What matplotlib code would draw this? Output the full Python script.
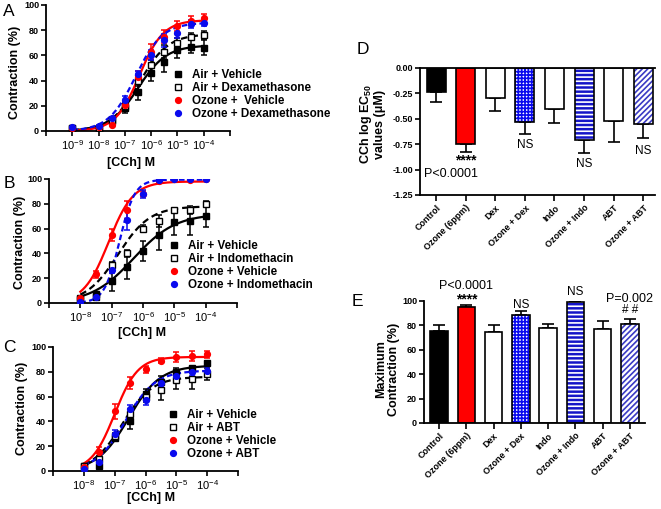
import numpy as np
import matplotlib
matplotlib.use("Agg")
import matplotlib.pyplot as plt

plt.rcParams['font.family'] = ['Liberation Sans', 'DejaVu Sans']
plt.rcParams['mathtext.default'] = 'regular'
plt.rcParams['hatch.linewidth'] = 1.2

W, H = 661, 509

# ---- dose-response data (log10 [CCh] M vs contraction %) ----
A_x = [-9, -8, -7.5, -7, -6.5, -6, -5.5, -5, -4.5, -4]
A_air_veh = [2, 1, 8, 18, 31, 46, 55, 64, 67, 66]
A_air_veh_err = [1, 1, 2, 4, 6, 6, 8, 6, 5, 6]
A_air_dex = [2, 2, 9, 20, 40, 52, 63, 70, 75, 76]
A_air_dex_err = [1, 1, 1, 3, 4, 4, 5, 4, 3, 3]
A_oz_veh = [2, 3, 5, 21, 43, 63, 75, 83, 87, 90]
A_oz_veh_err = [1, 1, 1, 3, 5, 6, 5, 4, 4, 3]
A_oz_dex = [3, 4, 10, 25, 45, 60, 72, 78, 85, 86]
A_oz_dex_err = [1, 1, 1, 3, 3, 4, 5, 4, 3, 3]
# fitted curves: bottom, top, logEC50, hill
A_fits = [(0, 68, -6.5, 0.8), (0, 77, -6.45, 0.8), (0, 88, -6.45, 0.95), (0, 86, -6.6, 0.85)]

B_x = [-8, -7.5, -7, -6.5, -6, -5.5, -5, -4.5, -4]
B_air_veh = [4, 7, 18, 29, 42, 55, 65, 66, 70]
B_air_veh_err = [1, 2, 8, 10, 8, 12, 10, 11, 9]
B_air_indo = [3, 5, 31, 40, 60, 66, 75, 75, 80]
B_air_indo_err = [1, 1, 2, 3, 3, 5, 2, 3, 2]
B_oz_veh = [4, 23, 55, 75, 88, 98, 100, 99, 100]
B_oz_veh_err = [1, 3, 5, 7, 2, 1, 1, 1, 1]
B_oz_indo = [1, 5, 27, 67, 88, 99, 100, 100, 100]
B_oz_indo_err = [1, 1, 3, 8, 3, 1, 1, 1, 1]
B_fits = [(0, 72, -6.3, 0.65), (0, 78, -6.8, 0.85), (0, 98, -7.1, 1.1), (0, 99.5, -6.75, 1.8)]

C_x = [-8, -7.5, -7, -6.5, -6, -5.5, -5, -4.5, -4]
C_air_veh = [4, 4, 27, 40, 62, 72, 80, 83, 87]
C_air_veh_err = [1, 1, 3, 6, 4, 5, 3, 2, 2]
C_air_abt = [4, 10, 28, 46, 60, 65, 73, 74, 78]
C_air_abt_err = [1, 2, 3, 4, 4, 8, 7, 8, 5]
C_oz_veh = [3, 15, 48, 71, 82, 89, 92, 93, 94]
C_oz_veh_err = [1, 4, 6, 5, 3, 2, 4, 4, 3]
C_oz_abt = [2, 7, 30, 50, 57, 71, 77, 80, 81]
C_oz_abt_err = [1, 2, 3, 3, 4, 3, 3, 3, 3]
C_fits = [(0, 85, -6.55, 0.85), (0, 76, -6.75, 0.9), (0, 92, -7.0, 1.15), (0, 81, -6.65, 0.9)]

# ---- bar data ----
groups = ["Control", "Ozone (6ppm)", "Dex", "Ozone + Dex", "Indo", "Ozone + Indo", "ABT", "Ozone + ABT"]
ec50 = [-0.24, -0.75, -0.30, -0.53, -0.40, -0.71, -0.52, -0.55]
ec50_err = [0.09, 0.08, 0.12, 0.12, 0.14, 0.13, 0.21, 0.14]
maxc = [75.5, 95, 75, 88.5, 78, 99, 77, 81.5]
maxc_err = [4.5, 1.5, 5, 3, 3.5, 0.5, 6.5, 4]

BLUE = '#0a0aee'
faces = ['black', '#ff0000', 'white', 'white', 'white', '#1414c8', 'white', 'white']
hatches = [None, None, None, '+++++', None, '----', None, '//////']
hatch_cols = [None, None, None, BLUE, None, 'white', None, '#3a3ac4']


def hill(x, p):
    b, t, ec, h = p
    return b + (t - b) / (1 + 10 ** ((ec - x) * h))


def px_axes(fig, l, t, r, b):
    return fig.add_axes([l / W, 1 - b / H, (r - l) / W, (b - t) / H])


def style_axes(ax):
    for s in ['top', 'right']:
        ax.spines[s].set_visible(False)
    for s in ['left', 'bottom']:
        ax.spines[s].set_linewidth(1.3)
    ax.tick_params(width=1.2, length=3.5, labelsize=6.5, pad=1.5)
    for lab in ax.get_yticklabels():
        lab.set_fontweight('bold')


fig = plt.figure(figsize=(W / 100, H / 100), dpi=100)


def curve_panel(box, x, series, fits, labels, xmin, xlabels, leg_xy, letter, letter_xy, ylab_xy, xlab_xy):
    ax = px_axes(fig, *box)
    cols = ['black', 'black', '#ff0000', BLUE]
    lss = ['-', (0, (3, 1.8)), '-', (0, (2.5, 1.5))]
    mfc = ['black', 'white', '#ff0000', BLUE]
    mks = ['s', 's', 'o', 'o']
    xs = np.linspace(xmin + 1, -4, 200)
    handles = []
    for (y, e), p, c, ls, fc, m, lab in zip(series, fits, cols, lss, mfc, mks, labels):
        ax.plot(xs, hill(xs, p), color=c, ls=ls, lw=1.6, zorder=2)
        ax.errorbar(x, y, yerr=e, fmt='none', ecolor=c, elinewidth=1.1, capsize=2.5, capthick=1.1, zorder=3)
        h, = ax.plot(x, y, ls='none', marker=m, ms=4.2, mfc=fc, mec=c, mew=1.0, zorder=4, label=lab)
        handles.append(h)
    ax.set_xlim(xmin, -3)
    ax.set_ylim(0, 100)
    ax.set_yticks([0, 20, 40, 60, 80, 100])
    ticks = list(range(xmin, -2))
    ax.set_xticks(ticks)
    ax.set_xticklabels([r'$10^{%d}$' % t if t in xlabels else '' for t in ticks])
    style_axes(ax)
    ax.tick_params(axis='x', labelsize=8, pad=1.5)
    fig.legend(handles=handles, loc='upper left', bbox_to_anchor=(leg_xy[0] / W, 1 - leg_xy[1] / H),
               frameon=False, handlelength=0.8, handletextpad=0.85, labelspacing=0.08,
               borderpad=0, borderaxespad=0, prop={'weight': 'bold', 'size': 8.4})
    fig.text(letter_xy[0] / W, 1 - letter_xy[1] / H, letter, fontsize=12.5, ha='center', va='center')
    fig.text(ylab_xy[0] / W, 1 - ylab_xy[1] / H, 'Contraction (%)', rotation=90, fontsize=9,
             fontweight='bold', ha='center', va='center')
    fig.text(xlab_xy[0] / W, 1 - xlab_xy[1] / H, '[CCh] M', fontsize=9, fontweight='bold',
             ha='center', va='center')
    return ax


curve_panel((46, 5, 230, 131), A_x,
            [(A_air_veh, A_air_veh_err), (A_air_dex, A_air_dex_err), (A_oz_veh, A_oz_veh_err), (A_oz_dex, A_oz_dex_err)],
            A_fits, ['Air + Vehicle', 'Air + Dexamethasone', 'Ozone +  Vehicle', 'Ozone + Dexamethasone'],
            -10, range(-9, -3), (173, 69), 'A', (9, 12), (15, 72), (131, 163))

curve_panel((49, 179, 237, 303), B_x,
            [(B_air_veh, B_air_veh_err), (B_air_indo, B_air_indo_err), (B_oz_veh, B_oz_veh_err), (B_oz_indo, B_oz_indo_err)],
            B_fits, ['Air + Vehicle', 'Air + Indomethacin', 'Ozone + Vehicle', 'Ozone + Indomethacin'],
            -9, range(-8, -3), (169, 240), 'B', (9, 183), (20, 242), (142, 333))

curve_panel((53, 347, 238, 471), C_x,
            [(C_air_veh, C_air_veh_err), (C_air_abt, C_air_abt_err), (C_oz_veh, C_oz_veh_err), (C_oz_abt, C_oz_abt_err)],
            C_fits, ['Air + Vehicle', 'Air + ABT', 'Ozone + Vehicle', 'Ozone + ABT'],
            -9, range(-8, -3), (168, 409), 'C', (9, 348), (22, 408), (151, 498))


def draw_bars(ax, vals, errs, down):
    pos = np.arange(len(vals))
    for i in range(len(vals)):
        if hatches[i]:
            ax.bar(pos[i], vals[i], width=0.64, color=faces[i], edgecolor=hatch_cols[i],
                   hatch=hatches[i], linewidth=0, zorder=2)
            ax.bar(pos[i], vals[i], width=0.64, color='none', edgecolor='black', linewidth=1.2, zorder=3)
        else:
            ax.bar(pos[i], vals[i], width=0.64, color=faces[i], edgecolor='black', linewidth=1.2, zorder=2)
    e = np.array(errs)
    yerr = [e, np.zeros_like(e)] if down else [np.zeros_like(e), e]
    ax.errorbar(pos, vals, yerr=yerr, fmt='none', ecolor='black', elinewidth=1.2,
                capsize=4.5, capthick=1.2, zorder=1)
    ax.set_xticks(pos)
    ax.set_xticklabels(groups, rotation=45, ha='right', va='top', rotation_mode='anchor',
                       fontsize=6.8, fontweight='bold')
    return pos


# ---- panel D ----
axD = px_axes(fig, 420, 68, 655, 195)
draw_bars(axD, ec50, ec50_err, True)
axD.set_ylim(-1.25, 0)
axD.set_xlim(-0.55, 7.4)
axD.set_yticks([0, -0.25, -0.5, -0.75, -1.0, -1.25])
axD.set_yticklabels(['%.2f' % v for v in [0, -0.25, -0.5, -0.75, -1.0, -1.25]])
style_axes(axD)
axD.spines['top'].set_visible(True)
axD.spines['top'].set_linewidth(1.3)
axD.tick_params(axis='x', length=4, pad=2)
axD.text(1, -0.915, '****', ha='center', va='center', fontsize=10, fontweight='bold')
axD.text(-0.4, -1.04, 'P<0.0001', ha='left', va='center', fontsize=9)
axD.text(3, -0.76, 'NS', ha='center', va='center', fontsize=8.5)
axD.text(5, -0.94, 'NS', ha='center', va='center', fontsize=8.5)
axD.text(7, -0.82, 'NS', ha='center', va='center', fontsize=8.5)
fig.text(363 / W, 1 - 50 / H, 'D', fontsize=12.5, ha='center', va='center')
fig.text(372 / W, 1 - 124 / H, 'CCh log EC$_{50}$\nvalues (\u03bcM)', rotation=90, fontsize=9,
         fontweight='bold', ha='center', va='center', linespacing=1.1)

# ---- panel E ----
axE = px_axes(fig, 424, 301, 645, 423)
draw_bars(axE, maxc, maxc_err, False)
axE.set_ylim(0, 100)
axE.set_xlim(-0.55, 7.55)
axE.set_yticks([0, 20, 40, 60, 80, 100])
style_axes(axE)
axE.tick_params(axis='x', length=4, pad=2)
axE.text(1, 112, 'P<0.0001', ha='center', va='center', fontsize=9)
axE.text(1, 101, '****', ha='center', va='center', fontsize=10, fontweight='bold')
axE.text(3, 97, 'NS', ha='center', va='center', fontsize=8.5)
axE.text(5, 107, 'NS', ha='center', va='center', fontsize=8.5)
axE.text(7, 102, 'P=0.002', ha='center', va='center', fontsize=9)
axE.text(7, 93, '# #', ha='center', va='center', fontsize=8.5)
fig.text(357 / W, 1 - 302 / H, 'E', fontsize=12.5, ha='center', va='center')
fig.text(388 / W, 1 - 369 / H, 'Maximum\nContraction (%)', rotation=90, fontsize=9,
         fontweight='bold', ha='center', va='center', linespacing=1.1)

fig.savefig('out.png', dpi=100)
